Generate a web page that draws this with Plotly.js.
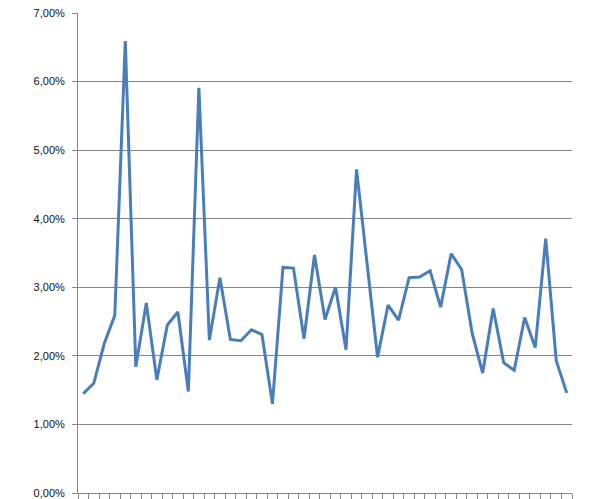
<!DOCTYPE html>
<html>
<head>
<meta charset="utf-8">
<script src="https://cdn.plot.ly/plotly-3.0.1.min.js"></script>
<style>html,body{margin:0;padding:0;background:#fff;}#chart{width:601px;height:499px;}</style>
</head>
<body>
<div id="chart"></div>
<script>
const categories = Array.from({length: 47}, (_, i) => i);
const values = [
  1.45, 1.60, 2.18, 2.59, 6.59, 1.84, 2.77, 1.65, 2.45, 2.64,
  1.48, 5.91, 2.23, 3.14, 2.24, 2.22, 2.38, 2.31, 1.30, 3.29,
  3.28, 2.25, 3.47, 2.53, 3.00, 2.09, 4.72, 3.35, 1.98, 2.74,
  2.52, 3.14, 3.15, 3.24, 2.71, 3.49, 3.26, 2.33, 1.75, 2.69,
  1.90, 1.79, 2.56, 2.12, 3.71, 1.93, 1.46
];
const yFractions = values.map(v => v / 100);

const trace = {
  x: categories,
  y: yFractions,
  type: 'scatter',
  mode: 'lines',
  line: {color: '#4A7EBB', width: 3},
  hoverinfo: 'y'
};

const layout = {
  width: 601,
  height: 499,
  margin: {l: 78, r: 29, t: 13, b: 6, pad: 0},
  paper_bgcolor: '#ffffff',
  plot_bgcolor: '#ffffff',
  separators: ', ',
  showlegend: false,
  font: {family: 'Liberation Sans, Arial, sans-serif', size: 11, color: '#222'},
  xaxis: {
    type: 'linear',
    range: [-0.5, 46.5],
    tickmode: 'linear',
    tick0: -0.5,
    dtick: 1,
    showticklabels: false,
    ticks: 'outside',
    ticklen: 5,
    tickcolor: '#868686',
    showgrid: false,
    zeroline: false,
    showline: true,
    linecolor: '#868686',
    linewidth: 1,
    fixedrange: true
  },
  yaxis: {
    range: [0, 0.07],
    tickmode: 'linear',
    tick0: 0,
    dtick: 0.01,
    tickformat: '.2%',
    ticks: 'outside',
    ticklen: 5,
    ticklabelstandoff: 5,
    tickcolor: '#868686',
    showgrid: true,
    gridcolor: '#868686',
    gridwidth: 1,
    zeroline: false,
    showline: true,
    linecolor: '#868686',
    linewidth: 1,
    tickfont: {family: 'Liberation Sans, Arial, sans-serif', size: 11, color: '#111'},
    fixedrange: true
  }
};

Plotly.newPlot('chart', [trace], layout, {displayModeBar: false, staticPlot: true});
</script>
</body>
</html>
